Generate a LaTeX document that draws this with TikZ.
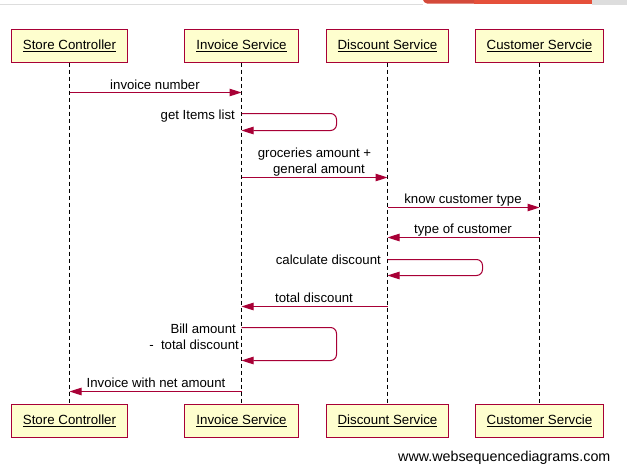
\documentclass[tikz,border=0pt]{standalone}
\usepackage{fontspec}
\setmainfont{Liberation Sans}
\usetikzlibrary{arrows.meta}

\definecolor{wsdred}{HTML}{A80036}
\definecolor{wsdfill}{HTML}{FEFECE}
\definecolor{tabdark}{HTML}{D44A3A}
\definecolor{tablight}{HTML}{E5503A}
\definecolor{stripgray}{HTML}{DDDDDD}

\tikzset{
    actor/.style={draw=wsdred, fill=wsdfill, line width=1pt, minimum height=33pt,
        inner xsep=11.5pt, font=\fontsize{13.3}{15}\selectfont},
    lifeline/.style={dash pattern=on 4pt off 3pt, line width=0.9pt},
    msg/.style={draw=wsdred, line width=1pt, -{Triangle[length=12pt,width=7.5pt]}},
    selfmsg/.style={msg, rounded corners=6pt},
    lbl/.style={font=\fontsize{13.2}{15}\selectfont, inner sep=0pt, anchor=base},
    lblr/.style={lbl, anchor=base east},
}

\begin{document}
\begin{tikzpicture}[x=1pt,y=-1pt]
    \useasboundingbox (0,0) rectangle (627,474);

    % Browser strip at the top
    \fill[stripgray] (0,3.5) rectangle (423,5);
    \fill[stripgray] (592,0) rectangle (627,4.5);
    \fill[tablight] (474,0) rectangle (592,3.5);
    \fill[tabdark] (423,0) -- (474,0) -- (474,3.5) -- (427,3.5) to[out=180,in=-60] (423,0) -- cycle;

    % Participants, top and bottom, with lifelines
    \foreach \name/\x/\txt in {sc/69.5/Store Controller, is/241.5/Invoice Service,
                               ds/387.5/Discount Service, cs/539.5/Customer Servcie}{
        \node[actor] (\name) at (\x,45.5) {\underline{\txt}};
        \node[actor] (\name-b) at (\x,420.5) {\underline{\txt}};
        \draw[lifeline] (\name.south) -- (\name-b.north);
    }

    % Messages between lifelines
    \foreach \a/\b/\y/\n in {sc/is/92/1, is/ds/177/3, ds/cs/207/4, cs/ds/237/5,
                             ds/is/306/7, is/sc/391/9}{
        \path (\a.south) ++(0,{\y-62}) coordinate (m\n a);
        \path (\b.south) ++(0,{\y-62}) coordinate (m\n b);
        \draw[msg] (m\n a) -- (m\n b);
    }

    % Self messages
    \foreach \a/\ya/\yb/\n in {is/113/130/2, ds/259/275/6, is/327/360/8}{
        \path (\a.south) ++(0,{\ya-62}) coordinate (s\n a);
        \path (\a.south) ++(0,{\yb-62}) coordinate (s\n b);
        \draw[selfmsg] (s\n a) -- ++(95,0) -- ++(0,{\yb-\ya}) -- (s\n b);
    }

    % Labels
    \node[lbl] (l1) at (155,89) {invoice number};
    \node[lblr] (l2) at (235,119) {get Items list};
    \node[lbl] (l3a) at (314.5,157) {groceries amount +};
    \node[lbl] (l3b) at (319,173) {general amount};
    \node[lbl] (l4) at (463,203.5) {know customer type};
    \node[lbl] (l5) at (463,233.5) {type of customer};
    \node[lblr] (l6) at (381,264) {calculate discount};
    \node[lbl] (l7) at (314,302.5) {total discount};
    \node[lblr] (l8a) at (236,333) {Bill amount};
    \node[lblr] (l8b) at (239,349) {-\ \ total discount};
    \node[lbl] (l9) at (156,387.5) {Invoice with net amount};

    % Footer
    \node[lbl, anchor=base west, font=\fontsize{14.3}{16}\selectfont] (site) at (398,461)
        {www.websequencediagrams.com};
\end{tikzpicture}
\end{document}
